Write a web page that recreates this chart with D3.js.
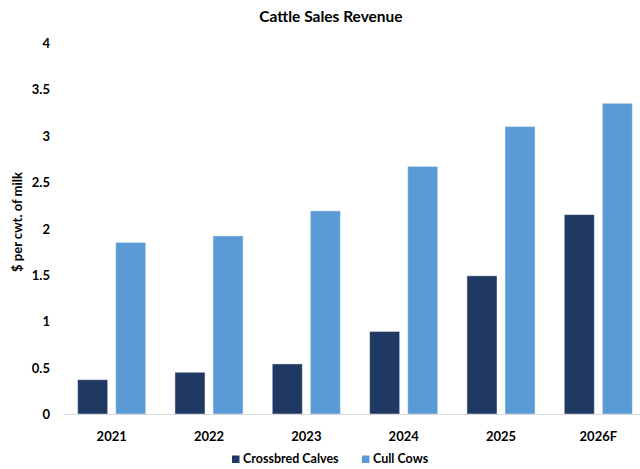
<!DOCTYPE html>
<html><head><meta charset="utf-8">
<script src="https://cdn.jsdelivr.net/npm/d3@7"></script>
<style>body{margin:0;background:#fff}svg{display:block}text{font-family:Lato,"Liberation Sans",sans-serif;font-weight:bold;fill:#000}</style>
</head><body><svg id="c" width="640" height="469"></svg>
<script>
const years = ["2021","2022","2023","2024","2025","2026F"];
const seriesNames = ["Crossbred Calves","Cull Cows"];
const crossbred = [0.37,0.45,0.54,0.89,1.49,2.15];
const cullCows = [1.85,1.92,2.19,2.67,3.10,3.35];
const yTicks = [0,0.5,1,1.5,2,2.5,3,3.5,4];
const colors = ["#203864","#5B9BD5"];

const svg = d3.select("#c");
const x = d3.scaleBand().domain(years).range([63,647]).paddingInner(0.30).paddingOuter(0.15);
const y = d3.scaleLinear().domain([0,4]).range([414,43]);
const xs = d3.scaleBand().domain(seriesNames).range([0,x.bandwidth()]).paddingInner(0.21);
const data = years.map((yr,i)=>({yr, vals:[crossbred[i],cullCows[i]]}));

svg.append("text").attr("x",331).attr("y",22).attr("text-anchor","middle").style("font-size","15.5px").text("Cattle Sales Revenue");

const g = svg.selectAll("g.grp").data(data).enter().append("g").attr("transform",d=>`translate(${x(d.yr)},0)`);
g.selectAll("rect").data(d=>d.vals.map((v,j)=>({v,j}))).enter().append("rect")
 .attr("x",d=>xs(seriesNames[d.j])).attr("width",xs.bandwidth())
 .attr("y",d=>y(d.v)).attr("height",d=>y(0)-y(d.v))
 .attr("fill",d=>colors[d.j]).attr("stroke","#ffffff").attr("stroke-opacity",0.45).attr("stroke-width",1);

const ya = svg.append("g").attr("transform","translate(52,0)").call(d3.axisLeft(y).tickValues(yTicks).tickSize(0).tickFormat(d3.format("~g")));
ya.select(".domain").remove();
ya.selectAll("text").style("font-size","13px").attr("dy","0.35em").attr("x",-2);

const xa = svg.append("g").attr("transform","translate(0,414)").call(d3.axisBottom(x).tickSize(0));
xa.select(".domain").attr("stroke","#d9d9d9").attr("stroke-width",1.2);
xa.selectAll("text").style("font-size","13px").attr("y",22).attr("dy","0.35em");

svg.append("text").attr("transform","translate(22,222) rotate(-90)").attr("text-anchor","middle").style("font-size","13px").text("$ per cwt. of milk");

const leg = svg.append("g");
const lx = [232,362];
seriesNames.forEach((n,i)=>{
  leg.append("rect").attr("x",lx[i]).attr("y",455.5).attr("width",7.5).attr("height",7.5).attr("fill",colors[i]);
  leg.append("text").attr("x",lx[i]+11).attr("y",459).attr("dy","0.35em").style("font-size","12.5px").text(n);
});
</script></body></html>
